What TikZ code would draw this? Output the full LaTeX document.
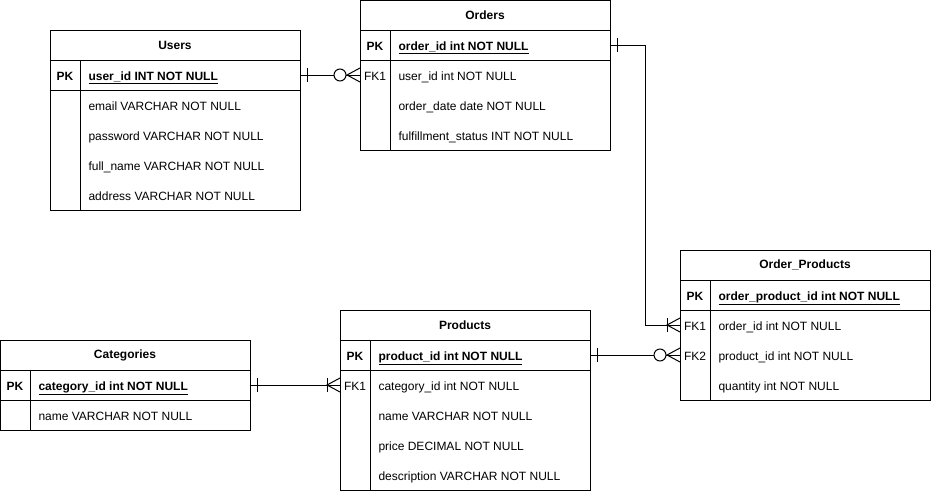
\documentclass[tikz,border=0pt]{standalone}
\usepackage{fontspec}
\setmainfont{Liberation Sans}
\usetikzlibrary{positioning}

\tikzset{
  tbltitle/.style={draw, inner sep=0, outer sep=0, minimum width=250, minimum height=30,
    font=\fontsize{12}{14}\selectfont\bfseries},
  tblrow/.style={draw, inner sep=0, outer sep=0, minimum width=250, minimum height=30},
  keytxt/.style={inner sep=0, text height=10pt, text depth=0pt, font=\fontsize{12}{14}\selectfont},
  field/.style={anchor=west, inner sep=0, text height=10pt, text depth=0pt, font=\fontsize{12}{14}\selectfont},
  pkfield/.style={field, font=\fontsize{12}{14}\selectfont\bfseries},
  crowone/.pic={\draw (7,-7) -- (7,7);},
  crowonemany/.pic={\draw (0,-7) -- (-13,0) -- (0,7); \draw (-13,-7) -- (-13,7);},
  crowzeromany/.pic={\draw (0,-7) -- (-13,0) -- (0,7); \draw[fill=white] (-20,0) circle[radius=6];}
}

\begin{document}
\begin{tikzpicture}[x=1pt, y=-1pt, line width=1pt]
	\useasboundingbox (0,0) rectangle (931,491);

	% Users
	\node[tbltitle, anchor=north west] (users) at (50,30) {Users};
	\node[tblrow, below=0pt of users] (users-pk) {};
	\node[tblrow, minimum height=120, below=0pt of users-pk] (users-body) {};
	\draw ([xshift=30pt]users-pk.north west) -- ([xshift=30pt]users-body.south west);
	\node[keytxt, font=\fontsize{12}{14}\selectfont\bfseries] (users-pkkey) at (65,75) {PK};
	\node[pkfield] (users-pkname) at (88,75) {\underline{user\_id INT NOT NULL}};
	\foreach \t [count=\i] in {email VARCHAR NOT NULL, password VARCHAR NOT NULL,
	    full\_name VARCHAR NOT NULL, address VARCHAR NOT NULL}
	  \node[field] (users-f\i) at (88,75+30*\i) {\t};

	% Orders
	\node[tbltitle, anchor=north west] (orders) at (360,0) {Orders};
	\node[tblrow, below=0pt of orders] (orders-pk) {};
	\node[tblrow, minimum height=90, below=0pt of orders-pk] (orders-body) {};
	\draw ([xshift=30pt]orders-pk.north west) -- ([xshift=30pt]orders-body.south west);
	\node[keytxt, font=\fontsize{12}{14}\selectfont\bfseries] (orders-pkkey) at (375,45) {PK};
	\node[pkfield] (orders-pkname) at (398,45) {\underline{order\_id int NOT NULL}};
	\node[keytxt] (orders-fk1) at (375,75) {FK1};
	\foreach \t [count=\i] in {user\_id int NOT NULL, order\_date date NOT NULL,
	    fulfillment\_status INT NOT NULL}
	  \node[field] (orders-f\i) at (398,45+30*\i) {\t};

	% Order_Products
	\node[tbltitle, anchor=north west] (ordprod) at (680,250) {Order\_Products};
	\node[tblrow, below=0pt of ordprod] (ordprod-pk) {};
	\node[tblrow, minimum height=90, below=0pt of ordprod-pk] (ordprod-body) {};
	\draw ([xshift=30pt]ordprod-pk.north west) -- ([xshift=30pt]ordprod-body.south west);
	\node[keytxt, font=\fontsize{12}{14}\selectfont\bfseries] (ordprod-pkkey) at (695,295) {PK};
	\node[pkfield] (ordprod-pkname) at (718,295) {\underline{order\_product\_id int NOT NULL}};
	\node[keytxt] (ordprod-fk1) at (695,325) {FK1};
	\node[keytxt] (ordprod-fk2) at (695,355) {FK2};
	\foreach \t [count=\i] in {order\_id int NOT NULL, product\_id int NOT NULL,
	    quantity int NOT NULL}
	  \node[field] (ordprod-f\i) at (718,295+30*\i) {\t};

	% Products
	\node[tbltitle, anchor=north west] (products) at (340,310) {Products};
	\node[tblrow, below=0pt of products] (products-pk) {};
	\node[tblrow, minimum height=120, below=0pt of products-pk] (products-body) {};
	\draw ([xshift=30pt]products-pk.north west) -- ([xshift=30pt]products-body.south west);
	\node[keytxt, font=\fontsize{12}{14}\selectfont\bfseries] (products-pkkey) at (355,355) {PK};
	\node[pkfield] (products-pkname) at (378,355) {\underline{product\_id int NOT NULL}};
	\node[keytxt] (products-fk1) at (355,385) {FK1};
	\foreach \t [count=\i] in {category\_id int NOT NULL, name VARCHAR NOT NULL,
	    price DECIMAL NOT NULL, description VARCHAR NOT NULL}
	  \node[field] (products-f\i) at (378,355+30*\i) {\t};

	% Categories
	\node[tbltitle, anchor=north west] (categories) at (0,340) {Categories};
	\node[tblrow, below=0pt of categories] (categories-pk) {};
	\node[tblrow, minimum height=30, below=0pt of categories-pk] (categories-body) {};
	\draw ([xshift=30pt]categories-pk.north west) -- ([xshift=30pt]categories-body.south west);
	\node[keytxt, font=\fontsize{12}{14}\selectfont\bfseries] (categories-pkkey) at (15,385) {PK};
	\node[pkfield] (categories-pkname) at (38,385) {\underline{category\_id int NOT NULL}};
	\node[field] (categories-f1) at (38,415) {name VARCHAR NOT NULL};

	% Relations
	\coordinate (orders-in1) at (orders-body.west |- orders-fk1);
	\coordinate (ordprod-in1) at (ordprod-body.west |- ordprod-fk1);
	\coordinate (ordprod-in2) at (ordprod-body.west |- ordprod-fk2);
	\coordinate (products-in1) at (products-body.west |- products-fk1);

	\draw (users-pk.east) -- (orders-in1);
	\pic at (users-pk.east) {crowone};
	\pic at (orders-in1) {crowzeromany};

	\draw (orders-pk.east) -- ++(35,0) |- (ordprod-in1);
	\pic at (orders-pk.east) {crowone};
	\pic at (ordprod-in1) {crowonemany};

	\draw (products-pk.east) -- (ordprod-in2);
	\pic at (products-pk.east) {crowone};
	\pic at (ordprod-in2) {crowzeromany};

	\draw (categories-pk.east) -- (products-in1);
	\pic at (categories-pk.east) {crowone};
	\pic at (products-in1) {crowonemany};
\end{tikzpicture}
\end{document}
